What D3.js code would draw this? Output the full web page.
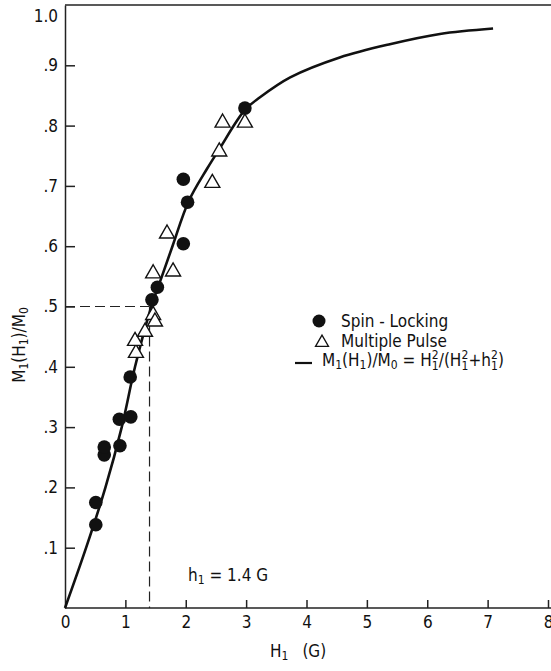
<!DOCTYPE html>
<html>
<head>
<meta charset="utf-8">
<script src="https://cdn.jsdelivr.net/npm/d3@7"></script>
<style>
  body { margin: 0; background: #fff; overflow: hidden; }
  svg text { font-family: "Liberation Sans Narrow", "DejaVu Sans Condensed", "Roboto Condensed", sans-serif; fill: #111; }
</style>
</head>
<body>
<svg id="graph"></svg>
<script>
// Données
const xTicks = [0, 1, 2, 3, 4, 5, 6, 7, 8];
const yTicks = [0.1, 0.2, 0.3, 0.4, 0.5, 0.6, 0.7, 0.8, 0.9, 1.0];
const yTickLabels = [".1", ".2", ".3", ".4", ".5", ".6", ".7", ".8", ".9", "1.0"];

// Spin-Locking (cercles pleins)
const spinH = [0.51, 0.51, 0.65, 0.65, 0.90, 0.91, 1.09, 1.08, 1.44, 1.53, 1.96, 1.96, 2.03, 2.98];
const spinM = [0.138, 0.175, 0.254, 0.267, 0.313, 0.269, 0.317, 0.383, 0.511, 0.532, 0.604, 0.711, 0.673, 0.829];

// Multiple Pulse (triangles vides)
const pulseH = [1.175, 1.16, 1.325, 1.46, 1.49, 1.46, 1.79, 1.69, 2.44, 2.555, 2.61, 2.98];
const pulseM = [0.426, 0.446, 0.461, 0.489, 0.478, 0.558, 0.561, 0.624, 0.708, 0.760, 0.808, 0.808];

// Courbe tracée M1(H1)/M0
const courbeH = [0, 0.35, 0.67, 0.94, 1.16, 1.43, 1.57, 1.78, 2.05, 2.35, 2.55, 2.98, 3.23, 3.73, 4.55, 5.38, 6.21, 7.09];
const courbeM = [0, 0.1, 0.2, 0.3, 0.4, 0.5, 0.54, 0.6, 0.675, 0.728, 0.76, 0.826, 0.847, 0.88, 0.913, 0.935, 0.952, 0.961];

const h1 = 1.4;
const mDemi = 0.5;

const largeur = 551, hauteur = 671;
const gauche = 65, droite = 548, haut = 5, bas = 608;

const svg = d3.select('#graph')
  .attr("width", largeur)
  .attr("height", hauteur);

const x = d3.scaleLinear().domain([0, 8]).range([gauche, droite]);
const y = d3.scaleLinear().domain([0, 1]).range([bas, haut]);

// Cadre : haut, bas
svg.append("line").attr("x1", gauche).attr("x2", largeur).attr("y1", y(1)).attr("y2", y(1))
  .attr("stroke", "#222").attr("stroke-width", 1.5);
svg.append("line").attr("x1", gauche).attr("x2", largeur).attr("y1", y(0)).attr("y2", y(0))
  .attr("stroke", "#222").attr("stroke-width", 1.5);

// Axe X (graduations vers l'intérieur)
const axeX = svg.append("g")
  .attr("transform", `translate(0,${y(0)})`)
  .call(d3.axisBottom(x).tickValues(xTicks).tickSizeInner(-8).tickSizeOuter(0).tickPadding(6)
    .tickFormat(d3.format("d")));
axeX.select(".domain").remove();
axeX.selectAll(".tick line").attr("stroke", "#222").attr("stroke-width", 1.5)
  .filter(d => d === 0).remove();
axeX.selectAll(".tick text").attr("font-size", 17).attr("dy", "0.85em").style("font-family", null);

// Axe Y
const axeY = svg.append("g")
  .attr("transform", `translate(${gauche},0)`)
  .call(d3.axisLeft(y).tickValues(yTicks).tickSizeInner(-10).tickSizeOuter(0).tickPadding(7)
    .tickFormat((d, i) => yTickLabels[i]));
axeY.select(".domain").attr("stroke", "#222").attr("stroke-width", 1.5);
axeY.selectAll(".tick line").attr("stroke", "#222").attr("stroke-width", 1.5)
  .filter(d => d === 1).remove();
axeY.selectAll(".tick text").attr("font-size", 17).style("font-family", null)
  .filter(d => d === 1).attr("dy", "0.95em");

// Lignes pointillées pour h1
svg.append("path")
  .attr("d", `M${x(0)},${y(mDemi)}H${x(h1)}`)
  .attr("stroke", "#222").attr("stroke-width", 1.2).attr("stroke-dasharray", "10,5").attr("fill", "none");
svg.append("path")
  .attr("d", `M${x(h1)},${y(mDemi)}V${y(0)}`)
  .attr("stroke", "#222").attr("stroke-width", 1.2).attr("stroke-dasharray", "10,5").attr("fill", "none");

// Courbe
const ligne = d3.line()
  .x(i => x(courbeH[i]))
  .y(i => y(courbeM[i]))
  .curve(d3.curveCatmullRom.alpha(0.5));
svg.append("path")
  .attr("d", ligne(d3.range(courbeH.length)))
  .attr("fill", "none").attr("stroke", "#111").attr("stroke-width", 2.6);

// Triangle vide centré
const triangle = (cx, cy, s) => `M${cx},${cy - s * 0.45}L${cx + s / 2},${cy + s * 0.42}L${cx - s / 2},${cy + s * 0.42}Z`;

svg.selectAll(".pulse")
  .data(d3.range(pulseH.length))
  .enter().append("path")
  .attr("class", "pulse")
  .attr("d", i => triangle(x(pulseH[i]), y(pulseM[i]), 15))
  .attr("fill", "#fff").attr("stroke", "#111").attr("stroke-width", 1.4);

svg.selectAll(".spin")
  .data(d3.range(spinH.length))
  .enter().append("circle")
  .attr("class", "spin")
  .attr("cx", i => x(spinH[i]))
  .attr("cy", i => y(spinM[i]))
  .attr("r", 6.8)
  .attr("fill", "#111");

// Légende
svg.append("circle").attr("cx", 319).attr("cy", 321).attr("r", 6.5).attr("fill", "#111");
svg.append("text").attr("x", 341).attr("y", 327).attr("font-size", 17).text("Spin - Locking");
svg.append("path").attr("d", triangle(322, 341, 13)).attr("fill", "#fff").attr("stroke", "#111").attr("stroke-width", 1.3);
svg.append("text").attr("x", 341).attr("y", 347).attr("font-size", 17).text("Multiple Pulse");
svg.append("line").attr("x1", 295).attr("x2", 312).attr("y1", 363).attr("y2", 363)
  .attr("stroke", "#111").attr("stroke-width", 2.2);

const formule = svg.append("text").attr("x", 322).attr("y", 366).attr("font-size", 17);
const morceau = (t, decal, taille, dx) => {
  const s = formule.append("tspan").text(t);
  if (decal) s.attr("baseline-shift", decal);
  if (taille) s.attr("font-size", taille);
  if (dx) s.attr("dx", dx);
  return s;
};
morceau("M");
morceau("1", "-3", 12);
morceau("(H");
morceau("1", "-3", 12);
morceau(")/M");
morceau("0", "-3", 12);
morceau(" = H");
morceau("2", "7", 12);
morceau("1", "-4", 12, -6.7);
morceau("/(H");
morceau("2", "7", 12);
morceau("1", "-4", 12, -6.7);
morceau("+h");
morceau("2", "7", 12);
morceau("1", "-4", 12, -6.7);
morceau(")");

// Annotation h1
const annot = svg.append("text").attr("x", 188).attr("y", 581).attr("font-size", 17);
annot.append("tspan").text("h");
annot.append("tspan").text("1").attr("font-size", 12).attr("baseline-shift", "-3");
annot.append("tspan").text(" = 1.4 G");

// Titres des axes
const titreX = svg.append("text").attr("x", 270).attr("y", 657).attr("font-size", 17);
titreX.append("tspan").text("H");
titreX.append("tspan").text("1").attr("font-size", 12).attr("baseline-shift", "-3");
titreX.append("tspan").text("(G)").attr("dx", 14);

const titreY = svg.append("text")
  .attr("transform", "translate(25,345) rotate(-90)")
  .attr("text-anchor", "middle").attr("font-size", 17);
titreY.append("tspan").text("M");
titreY.append("tspan").text("1").attr("font-size", 12).attr("baseline-shift", "-3");
titreY.append("tspan").text("(H");
titreY.append("tspan").text("1").attr("font-size", 12).attr("baseline-shift", "-3");
titreY.append("tspan").text(")/M");
titreY.append("tspan").text("0").attr("font-size", 12).attr("baseline-shift", "-3");
</script>
</body>
</html>
